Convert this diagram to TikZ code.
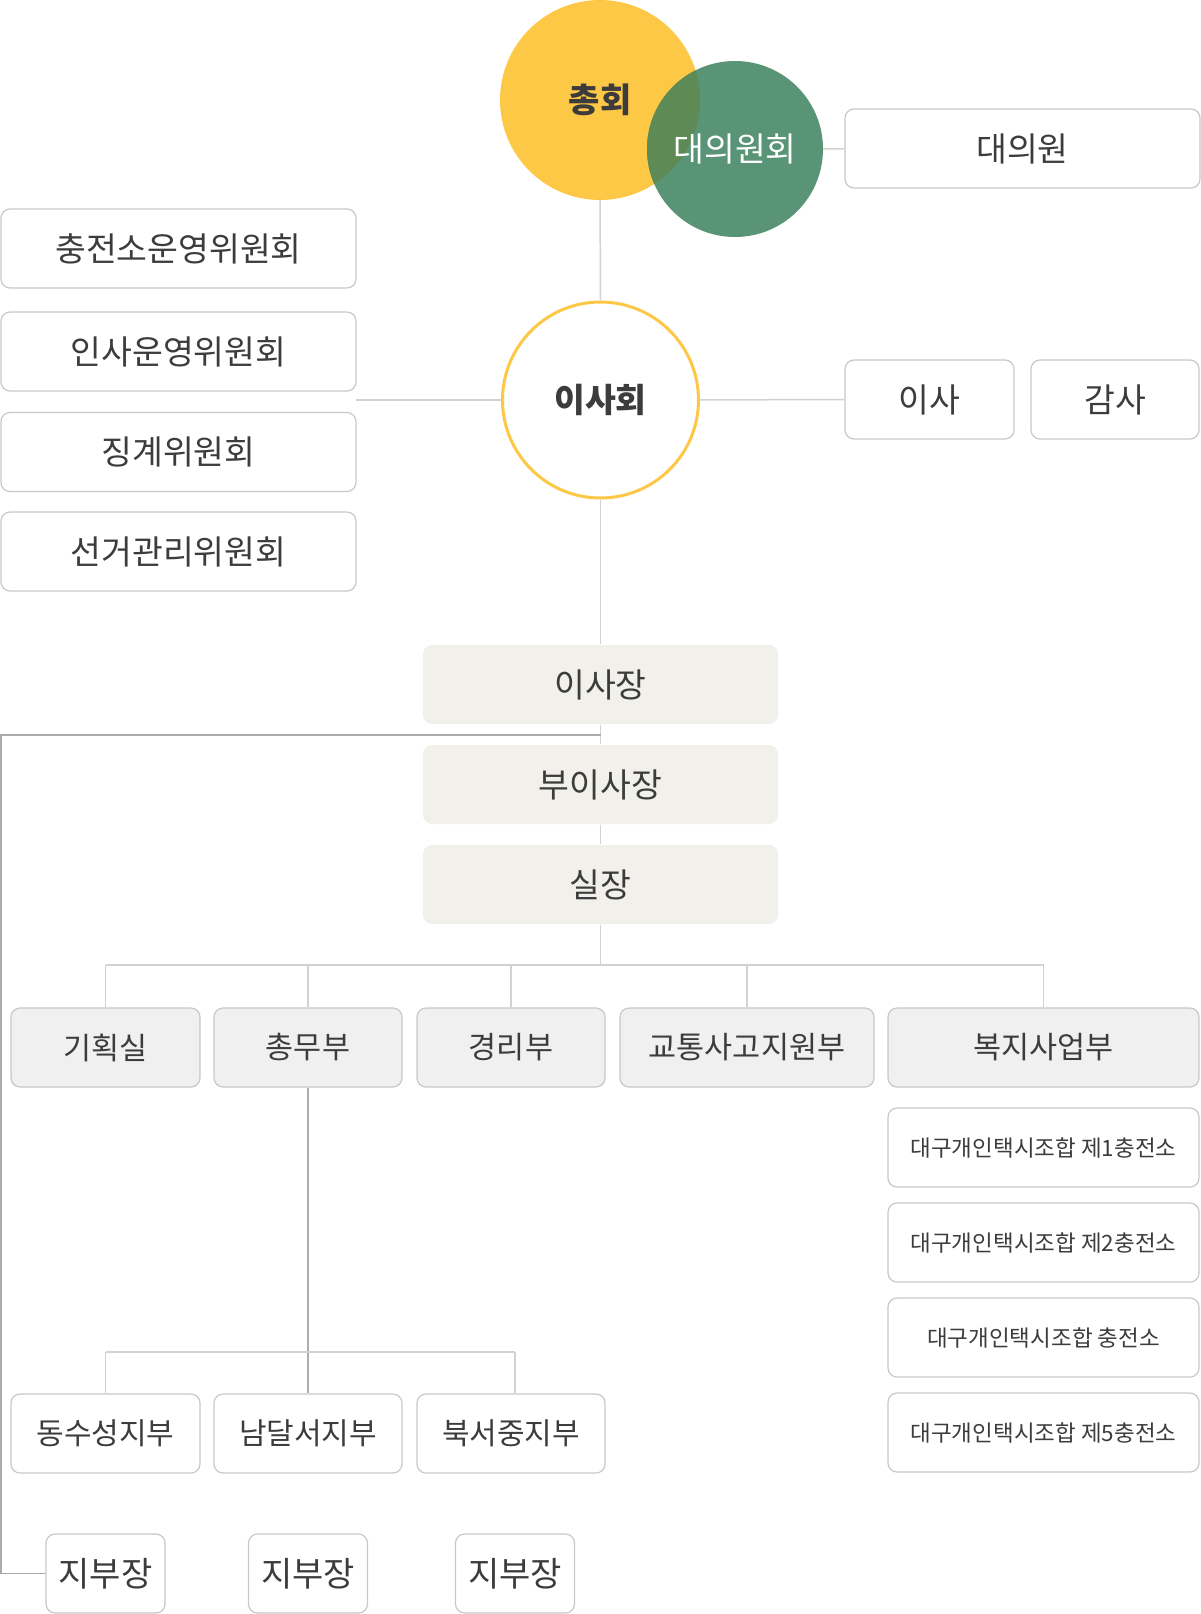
\documentclass[tikz,border=0pt]{standalone}
\usepackage{fontspec}
\setmainfont{Noto Sans CJK KR}
\usepackage{tikz}
\definecolor{txt}{HTML}{3C3C3C}
\definecolor{gold}{HTML}{FEC847}
\definecolor{leaf}{HTML}{5A9477}
\definecolor{olive}{HTML}{5E8B55}
\definecolor{rim}{HTML}{C8C8C8}
\definecolor{wire}{HTML}{D2D2D2}
\definecolor{wiredark}{HTML}{ABABAB}
\definecolor{beige}{HTML}{F2F0EA}
\definecolor{pale}{HTML}{F0F0F0}
\tikzset{
  box/.style={draw=rim, line width=1.2pt, rounded corners=9pt, fill=white, inner sep=0pt,
    minimum height=79pt, minimum width=355pt, text=txt, font=\fontsize{33.5}{33.5}\selectfont},
  dept/.style={box, fill=pale, font=\fontsize{30.5}{30.5}\selectfont},
  branch/.style={box, minimum width=188pt, font=\fontsize{30}{30}\selectfont},
  head/.style={box, draw=none, fill=beige},
  station/.style={box, minimum width=311pt, font=\fontsize{22.5}{22.5}\selectfont},
  wire/.style={draw=wire, line width=1.5pt},
  wiredk/.style={draw=wiredark, line width=1.5pt},
}

\begin{document}
\begin{tikzpicture}[x=1pt, y=-1pt]
    \useasboundingbox (0, 0) rectangle (1201, 1614);
    % assembly and council
    \node[circle, fill=gold, inner sep=0pt, minimum size=200pt, text=txt, font=\fontsize{34}{34}\selectfont\bfseries](assembly) at (600, 100){총회};
    \node[circle, fill=leaf, inner sep=0pt, minimum size=176pt, text=white, font=\fontsize{33.5}{33.5}\selectfont,
        path picture={\fill[olive](assembly.center)circle(100pt);}](council) at (735, 149){대의원회};
    \node[box](delegate) at (1022.5, 148.5){대의원};
    \node[circle, draw=gold, line width=3pt, fill=white, inner sep=0pt, minimum size=196pt, text=txt, font=\fontsize{33.5}{33.5}\selectfont\bfseries](board) at (600.5, 400){이사회};
    \node[box, minimum width=169pt](director) at (929.5, 399.5){이사};
    \node[box, minimum width=168pt](auditor) at (1115, 399.5){감사};
    % committees
    \node[box](cmt1) at (178.5, 248.5){충전소운영위원회};
    \node[box](cmt2) at (178.5, 351.5){인사운영위원회};
    \node[box](cmt3) at (178.5, 452){징계위원회};
    \node[box](cmt4) at (178.5, 551.5){선거관리위원회};
    \coordinate(cmt) at (356, 400);
    % heads
    \node[head](chair) at (600.5, 684.5){이사장};
    \node[head](vice) at (600.5, 784.5){부이사장};
    \node[head](chief) at (600.5, 884.5){실장};
    % departments
    \node[dept, minimum width=189pt](plan) at (105.5, 1047.5){기획실};
    \node[dept, minimum width=188pt](admin) at (308, 1047.5){총무부};
    \node[dept, minimum width=188pt](acct) at (511, 1047.5){경리부};
    \node[dept, minimum width=254pt](traffic) at (747, 1047.5){교통사고지원부};
    \node[dept, minimum width=311pt](welfare) at (1043.5, 1047.5){복지사업부};
    % charging stations
    \node[station](st1) at (1043.5, 1147.5){대구개인택시조합 제1충전소};
    \node[station](st2) at (1043.5, 1242.5){대구개인택시조합 제2충전소};
    \node[station](st3) at (1043.5, 1337.5){대구개인택시조합 충전소};
    \node[station](st4) at (1043.5, 1432.5){대구개인택시조합 제5충전소};
    % branches
    \node[branch, minimum width=189pt](east) at (105.5, 1433.5){동수성지부};
    \node[branch](south) at (308, 1433.5){남달서지부};
    \node[branch](north) at (511, 1433.5){북서중지부};
    \node[box, minimum width=119pt, font=\fontsize{34}{34}\selectfont](ldr1) at (105.5, 1573.5){지부장};
    \node[box, minimum width=119pt, font=\fontsize{34}{34}\selectfont](ldr2) at (308, 1573.5){지부장};
    \node[box, minimum width=119pt, font=\fontsize{34}{34}\selectfont](ldr3) at (515, 1573.5){지부장};
    % connectors
    \draw[wire](assembly)--(board);
    \draw[wire](council)--(delegate);
    \draw[wire](cmt)--(board);
    \draw[wire](board)--(director);
    \draw[wire](board)--(chair);
    \draw[wire](chair)--(vice);
    \draw[wire](vice)--(chief);
    \coordinate(tap) at (600.5, 735);
    \draw[wiredk](tap)--(1, 735)|-(ldr1);
    \coordinate(bus) at (600.5, 965);
    \draw[wire](chief)--(bus);
    \draw[wire](bus-|plan)--(bus-|welfare);
    \foreach \d in {plan, admin, acct, traffic, welfare}
        \draw[wire](bus-|\d)--(\d);
    \coordinate(fork) at (308, 1352);
    \draw[wiredk](admin)--(south);
    \draw[wire](fork-|east)--(fork-|ldr3);
    \draw[wire](fork-|east)--(east);
    \draw[wire](fork-|ldr3)--(north.north-|ldr3);
\end{tikzpicture}
\end{document}
